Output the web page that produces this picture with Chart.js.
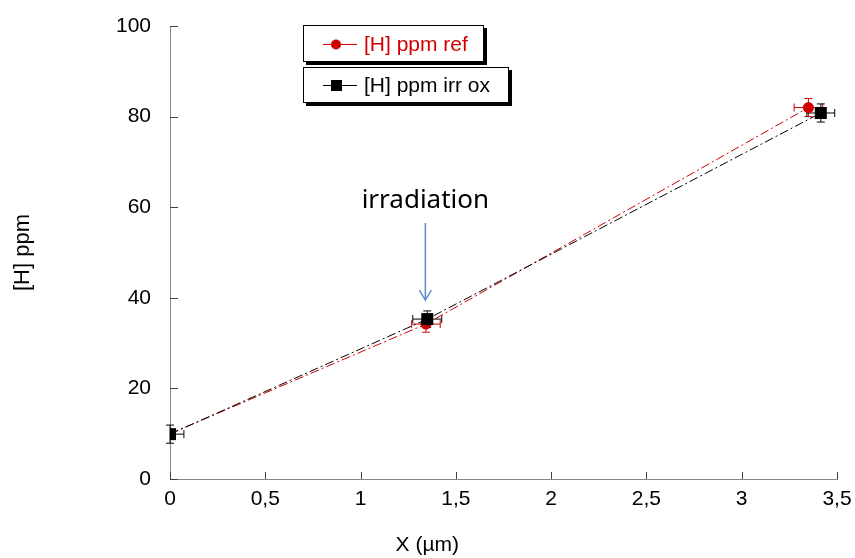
<!DOCTYPE html>
<html>
<head>
<meta charset="utf-8">
<script src="https://cdn.jsdelivr.net/npm/chart.js@4.4.1/dist/chart.umd.min.js"></script>
<style>
  html, body { margin: 0; padding: 0; background: #fff; }
  #wrap { position: relative; width: 855px; height: 558px; }
  #c { display: block; }
  .lg { position: absolute; left: 303px; background: #fff; border: 1px solid #000;
        box-shadow: 3px 3px 0 #000; font: 21px "Liberation Sans", Arial, sans-serif;
        display: flex; align-items: center; box-sizing: border-box; }
  .lg canvas { margin-left: 19px; margin-right: 7px; }
</style>
</head>
<body>
<div id="wrap">
  <canvas id="c" width="855" height="558"></canvas>
  <div class="lg" style="top:25px;width:181px;height:37px;color:#d00000">
    <canvas id="k1" width="34" height="14"></canvas>[H] ppm ref</div>
  <div class="lg" style="top:67px;width:206px;height:36px;color:#000">
    <canvas id="k2" width="34" height="14"></canvas>[H] ppm irr ox</div>
</div>
<script>
// ── Data ──────────────────────────────────────────
const xTicks = [0, 0.5, 1, 1.5, 2, 2.5, 3, 3.5];
const yTicks = [0, 20, 40, 60, 80, 100];

const refX    = [0, 1.343, 3.35];
const refY    = [10, 34.2, 82];
const refXErr = [0, 0.075, 0.075];
const refYErr = [0, 1.8, 2];

const irrX    = [0, 1.35, 3.415];
const irrY    = [9.9, 35.3, 80.8];
const irrXErr = [0.073, 0.076, 0.073];
const irrYErr = [2, 1.8, 2];

const RED = '#d00000';
const BLK = '#000000';
const DASH = [9, 3, 2, 3];

function pts(xs, ys) { return xs.map((x, i) => ({ x, y: ys[i] })); }

// legend keys
function drawKey(id, color, style) {
  const k = document.getElementById(id).getContext('2d');
  k.strokeStyle = color; k.lineWidth = 1;
  k.beginPath(); k.moveTo(0, 7.5); k.lineTo(34, 7.5); k.stroke();
  k.fillStyle = color;
  if (style === 'circle') { k.beginPath(); k.arc(13, 7.5, 5, 0, Math.PI * 2); k.fill(); }
  else k.fillRect(8, 2, 11, 11);
}
drawKey('k1', RED, 'circle');
drawKey('k2', BLK, 'rect');

// ── Error bars + inner ticks + annotation ─────────
const extras = {
  id: 'extras',
  beforeDatasetsDraw(chart) {
    const { ctx, scales: { x, y } } = chart;
    const sets = [
      [refX, refY, refXErr, refYErr, RED],
      [irrX, irrY, irrXErr, irrYErr, BLK],
    ];
    ctx.save();
    ctx.lineWidth = 1;
    sets.forEach(([xs, ys, xe, ye, col]) => {
      ctx.strokeStyle = col;
      xs.forEach((v, i) => {
        const px = x.getPixelForValue(v), py = y.getPixelForValue(ys[i]);
        if (xe[i]) {
          const l = x.getPixelForValue(v - xe[i]), r = x.getPixelForValue(v + xe[i]);
          ctx.beginPath();
          ctx.moveTo(Math.max(l, x.left), py); ctx.lineTo(r, py);
          if (l >= x.left) { ctx.moveTo(l, py - 4); ctx.lineTo(l, py + 4); }
          ctx.moveTo(r, py - 4); ctx.lineTo(r, py + 4);
          ctx.stroke();
        }
        if (ye[i]) {
          const t = y.getPixelForValue(ys[i] + ye[i]), b = y.getPixelForValue(ys[i] - ye[i]);
          ctx.beginPath();
          ctx.moveTo(px, t); ctx.lineTo(px, b);
          ctx.moveTo(px - 4, t); ctx.lineTo(px + 4, t);
          ctx.moveTo(px - 4, b); ctx.lineTo(px + 4, b);
          ctx.stroke();
        }
      });
    });
    ctx.restore();
  },
  afterDraw(chart) {
    const { ctx, scales: { x, y } } = chart;
    ctx.save();
    ctx.strokeStyle = '#404040';
    ctx.lineWidth = 1;
    ctx.beginPath();
    yTicks.forEach(v => {
      const py = Math.round(y.getPixelForValue(v)) + 0.5;
      ctx.moveTo(x.left, py); ctx.lineTo(x.left + 8, py);
    });
    xTicks.forEach(v => {
      const px = Math.round(x.getPixelForValue(v)) + 0.5;
      ctx.moveTo(px, y.bottom); ctx.lineTo(px, y.bottom - 7);
    });
    ctx.stroke();

    // x axis title (sits left of centre in the original)
    ctx.fillStyle = '#000';
    ctx.font = '21px "Liberation Sans Narrow", "Liberation Sans", Arial';
    ctx.textAlign = 'center';
    ctx.textBaseline = 'middle';
    ctx.fillText('X (µm)', x.getPixelForValue(1.35), 545);

    // irradiation annotation
    const ax = x.getPixelForValue(1.34);
    ctx.font = '26px "Noto Sans", "Open Sans", sans-serif';
    ctx.fillText('irradiation', ax, y.getPixelForValue(61.4));
    const y0 = y.getPixelForValue(56.5), y1 = y.getPixelForValue(39.5);
    ctx.strokeStyle = '#5b8fd0';
    ctx.lineWidth = 1.5;
    ctx.beginPath();
    ctx.moveTo(ax, y0); ctx.lineTo(ax, y1);
    ctx.moveTo(ax - 6, y1 - 10); ctx.lineTo(ax, y1); ctx.lineTo(ax + 6, y1 - 10);
    ctx.stroke();
    ctx.restore();
  },
};

// ── Chart ─────────────────────────────────────────
new Chart(document.getElementById('c'), {
  type: 'scatter',
  data: {
    datasets: [
      {
        label: '[H] ppm ref',
        data: pts(refX, refY),
        order: 1,
        showLine: true,
        borderColor: RED, backgroundColor: RED,
        borderWidth: 1, borderDash: DASH,
        pointStyle: 'circle', pointRadius: 5.5, pointBorderWidth: 0,
      },
      {
        label: '[H] ppm irr ox',
        data: pts(irrX, irrY),
        order: 0,
        showLine: true,
        borderColor: BLK, backgroundColor: BLK,
        borderWidth: 1, borderDash: DASH,
        pointStyle: 'rect', pointRadius: 8.5, pointBorderWidth: 0,
      },
    ],
  },
  options: {
    responsive: false,
    animation: false,
    layout: { padding: { top: 26, right: 18, left: 0, bottom: 0 } },
    plugins: { legend: { display: false }, tooltip: { enabled: false } },
    scales: {
      x: {
        type: 'linear', min: 0, max: 3.5,
        afterBuildTicks: s => { s.ticks = xTicks.map(v => ({ value: v })); },
        afterFit: s => { s.height = 79; s.paddingLeft = 0; s.paddingRight = 0; },
        grid: { display: true, drawOnChartArea: false, drawTicks: false },
        border: { color: '#868686', width: 1 },
        ticks: {
          color: '#000', padding: 8, maxRotation: 0,
          font: { family: '"Liberation Sans Narrow", "Liberation Sans", Arial', size: 21 },
          callback: v => String(v).replace('.', ','),
        },
        title: { display: false },
      },
      y: {
        type: 'linear', min: 0, max: 100,
        afterBuildTicks: s => { s.ticks = yTicks.map(v => ({ value: v })); },
        afterFit: s => { s.width = 170; s.paddingTop = 0; s.paddingBottom = 0; },
        grid: { display: true, drawOnChartArea: false, drawTicks: false },
        border: { color: '#868686', width: 1 },
        ticks: {
          color: '#000', padding: 19,
          font: { family: '"Liberation Sans", Arial', size: 21 },
        },
        title: {
          display: true, text: '[H] ppm', color: '#000',
          font: { family: '"Liberation Sans", Arial', size: 22 },
          padding: { top: 10, bottom: 0 },
        },
      },
    },
  },
  plugins: [extras],
});
</script>
</body>
</html>
